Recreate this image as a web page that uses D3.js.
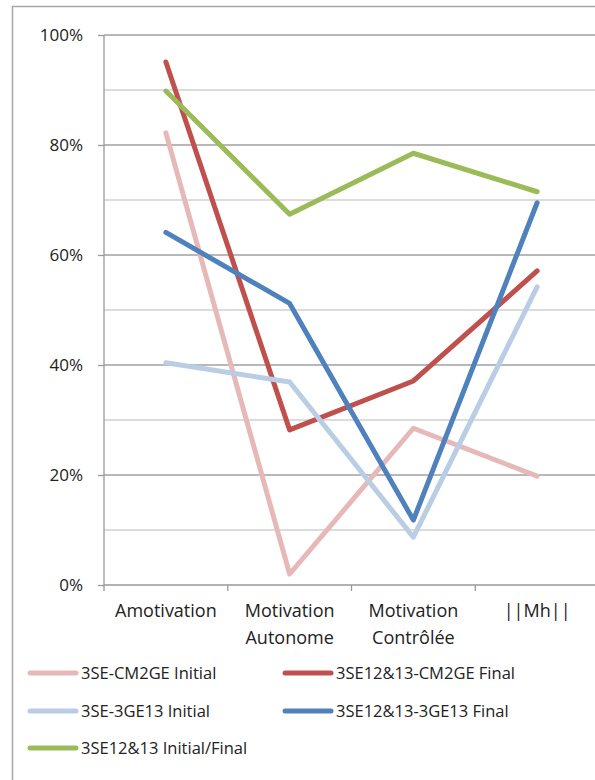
<!DOCTYPE html>
<html>
<head>
<meta charset="utf-8">
<script src="https://cdn.jsdelivr.net/npm/d3@7"></script>
<style>
  body { margin: 0; background: #fff; }
  svg text { font-family: "Open Sans", "Noto Sans", sans-serif; fill: #222; }
</style>
</head>
<body>
<div id="chart"></div>
<script>
// categories (x axis), two-line labels
var categories = ["Amotivation", "Motivation Autonome", "Motivation Contrôlée", "||Mh||"];
var categoryLines = [["Amotivation"], ["Motivation", "Autonome"], ["Motivation", "Contrôlée"], ["||Mh||"]];

var seriesNames = ["3SE-CM2GE Initial", "3SE12&13-CM2GE Final", "3SE-3GE13 Initial", "3SE12&13-3GE13 Final", "3SE12&13 Initial/Final"];
var seriesColors = ["#e6b9b8", "#c0504d", "#b9cde5", "#4f81bd", "#9bbb59"];

// values in %
var cm2geInitial = [82.2, 2.0, 28.5, 19.8];
var cm2geFinal   = [95.1, 28.2, 37.1, 57.1];
var ge13Initial  = [40.4, 36.9, 8.7, 54.2];
var ge13Final    = [64.1, 51.2, 11.8, 69.5];
var allInitFinal = [89.8, 67.4, 78.5, 71.5];

var yTicks = [0, 20, 40, 60, 80, 100];

var seriesValues = [cm2geInitial, cm2geFinal, ge13Initial, ge13Final, allInitFinal];

var W = 595, H = 780;
var svg = d3.select("#chart").append("svg")
    .attr("width", W)
    .attr("height", H);

// outer chart border
svg.append("rect")
    .attr("x", 12.5).attr("y", 6.5)
    .attr("width", 620).attr("height", 820)
    .attr("fill", "none")
    .attr("stroke", "#a6a6a6")
    .attr("stroke-width", 1.5);

var plotL = 104, plotR = 599, plotT = 35, plotB = 585;

var x = d3.scaleBand()
    .domain(categories)
    .range([plotL, plotR]);

var y = d3.scaleLinear()
    .domain([0, 100])
    .range([plotB, plotT]);

// minor gridlines every 10%
svg.append("g")
  .selectAll("line")
  .data(d3.range(10, 100, 20))
  .enter().append("line")
    .attr("x1", plotL).attr("x2", plotR)
    .attr("y1", function(d) { return y(d); })
    .attr("y2", function(d) { return y(d); })
    .attr("stroke", "#d0d0d0")
    .attr("stroke-width", 1.3);

// major gridlines + y axis
var yAxis = d3.axisLeft(y)
    .tickValues(yTicks)
    .tickSize(6)
    .tickFormat(function(d) { return d + "%"; });

var gy = svg.append("g")
    .attr("transform", "translate(" + plotL + ",0)")
    .call(yAxis);
gy.select(".domain").remove();
gy.selectAll(".tick line").attr("stroke", "#999").attr("stroke-width", 1.3);
gy.selectAll(".tick text")
    .attr("x", -21)
    .attr("fill", "#222")
    .style("font-family", "'Open Sans', sans-serif")
    .style("font-size", "17px");

svg.append("g")
  .selectAll("line")
  .data(yTicks.filter(function(d) { return d > 0; }))
  .enter().append("line")
    .attr("x1", plotL).attr("x2", plotR)
    .attr("y1", function(d) { return y(d); })
    .attr("y2", function(d) { return y(d); })
    .attr("stroke", "#a0a0a0")
    .attr("stroke-width", 1.3);

// y axis line
svg.append("line")
    .attr("x1", plotL).attr("x2", plotL)
    .attr("y1", plotT).attr("y2", plotB)
    .attr("stroke", "#999").attr("stroke-width", 1.3);

// x axis line + ticks at category boundaries
svg.append("line")
    .attr("x1", plotL).attr("x2", plotR)
    .attr("y1", plotB).attr("y2", plotB)
    .attr("stroke", "#999").attr("stroke-width", 1.3);

svg.append("g")
  .selectAll("line")
  .data(categories)
  .enter().append("line")
    .attr("x1", function(d) { return x(d); })
    .attr("x2", function(d) { return x(d); })
    .attr("y1", plotB).attr("y2", plotB + 6)
    .attr("stroke", "#999").attr("stroke-width", 1.3);

// category labels
var catLabels = svg.append("g")
  .selectAll("text")
  .data(categories)
  .enter().append("text")
    .attr("text-anchor", "middle")
    .attr("x", function(d) { return x(d) + x.bandwidth() / 2; })
    .attr("y", 617)
    .style("font-size", "18px");
catLabels.each(function(d, i) {
  var t = d3.select(this);
  categoryLines[i].forEach(function(s, k) {
    t.append("tspan")
      .attr("x", x(d) + x.bandwidth() / 2)
      .attr("dy", k === 0 ? 0 : 27)
      .text(s);
  });
});

// lines
var line = d3.line()
    .x(function(d, i) { return x(categories[i]) + x.bandwidth() / 2; })
    .y(function(d) { return y(d); });

svg.append("g")
  .selectAll("path")
  .data(seriesValues)
  .enter().append("path")
    .attr("d", function(d) { return line(d); })
    .attr("fill", "none")
    .attr("stroke", function(d, i) { return seriesColors[i]; })
    .attr("stroke-width", 5)
    .attr("stroke-linejoin", "round")
    .attr("stroke-linecap", "round");

// legend
var legendPos = [[30, 673], [285, 673], [30, 711], [285, 711], [30, 748]];
var lg = svg.append("g")
  .selectAll("g")
  .data(seriesNames)
  .enter().append("g")
    .attr("transform", function(d, i) { return "translate(" + legendPos[i][0] + "," + legendPos[i][1] + ")"; });

lg.append("line")
    .attr("x1", 0).attr("x2", 46)
    .attr("stroke", function(d, i) { return seriesColors[i]; })
    .attr("stroke-width", 5)
    .attr("stroke-linecap", "round");

lg.append("text")
    .attr("x", 51)
    .attr("dy", "0.35em")
    .style("font-size", "16.5px")
    .text(function(d) { return d; });
</script>
</body>
</html>
